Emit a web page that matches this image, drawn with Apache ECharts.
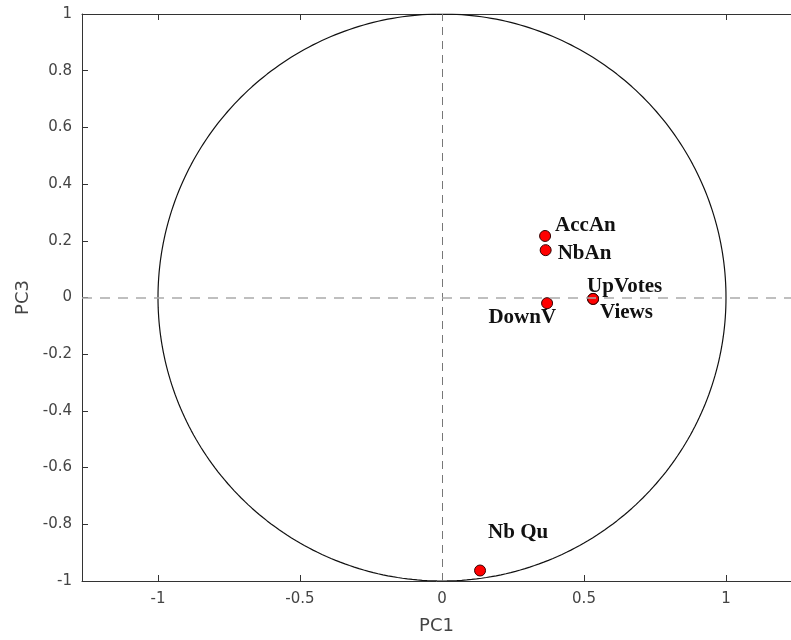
<!DOCTYPE html>
<html>
<head>
<meta charset="utf-8">
<script src="https://cdn.jsdelivr.net/npm/echarts@6/dist/echarts.min.js"></script>
<style>html,body{margin:0;padding:0;background:#fff;}#c{width:791px;height:640px;}</style>
</head>
<body>
<div id="c"></div>
<script>
// Data
var varNames = ['AccAn', 'NbAn', 'DownV', 'UpVotes', 'Views', 'Nb Qu'];
var pc1 = [0.363, 0.365, 0.370, 0.532, 0.532, 0.134];
var pc3 = [0.217, 0.167, -0.020, -0.005, -0.005, -0.963];
var xTicks = [-1, -0.5, 0, 0.5, 1];

// label placement (style, not data)
var labelPlace = {
  'AccAn':   {offset: [10, -10], align: 'left'},
  'NbAn':    {offset: [12, 3], align: 'left'},
  'DownV':   {offset: [9, 14], align: 'right'},
  'UpVotes': {offset: [-6, -12], align: 'left'},
  'Views':   {offset: [7, 14], align: 'left'},
  'Nb Qu':   {offset: [8, -38], align: 'left'}
};

var pts = varNames.map(function (n, i) {
  var lp = labelPlace[n];
  return {
    name: n,
    value: [pc1[i], pc3[i]],
    label: {offset: lp.offset, align: lp.align}
  };
});

var circle = [];
for (var a = 0; a <= 360; a += 1) {
  var t = a * Math.PI / 180;
  circle.push([Math.cos(t), Math.sin(t)]);
}

var tickColor = '#444';
var axisColor = '#333';
var chart = echarts.init(document.getElementById('c'), null, {renderer: 'canvas'});
chart.setOption({
  animation: false,
  grid: {left: 82, top: 14, width: 709, height: 568, containLabel: false},
  xAxis: [{
    type: 'value', min: -1.2676, max: 1.2289, position: 'bottom',
    name: 'PC1', nameLocation: 'middle', nameGap: 36,
    nameTextStyle: {fontFamily: 'DejaVu Sans', fontSize: 18, color: tickColor},
    axisLine: {show: true, onZero: false, lineStyle: {color: axisColor, width: 1}},
    axisTick: {show: true, inside: true, length: 6, customValues: xTicks, lineStyle: {color: axisColor}},
    axisLabel: {show: true, customValues: xTicks, margin: 11, fontFamily: 'DejaVu Sans', fontSize: 15, color: tickColor},
    splitLine: {show: false}
  }, {
    type: 'value', min: -1.2676, max: 1.2289, position: 'top',
    axisLine: {show: true, onZero: false, lineStyle: {color: axisColor, width: 1}},
    axisTick: {show: true, inside: true, length: 6, customValues: xTicks, lineStyle: {color: axisColor}},
    axisLabel: {show: false},
    splitLine: {show: false}
  }],
  yAxis: [{
    type: 'value', min: -1, max: 1, interval: 0.2, position: 'left',
    name: 'PC3', nameLocation: 'middle', nameGap: 47, nameRotate: 90,
    nameTextStyle: {fontFamily: 'DejaVu Sans', fontSize: 18, color: tickColor},
    axisLine: {show: true, onZero: false, lineStyle: {color: axisColor, width: 1}},
    axisTick: {show: true, inside: true, length: 6, lineStyle: {color: axisColor}},
    axisLabel: {margin: 10, fontFamily: 'DejaVu Sans', fontSize: 15, color: tickColor,
      formatter: function (v) { return String(Math.round(v * 10) / 10); }},
    splitLine: {show: false}
  }],
  series: [{
    type: 'line', data: circle, showSymbol: false, symbol: 'none', silent: true,
    lineStyle: {color: '#111', width: 1.2},
    markLine: {
      silent: true, symbol: 'none', label: {show: false},
      data: [
        {xAxis: 0, lineStyle: {color: '#777', type: [8, 6], width: 1}},
        {yAxis: 0, lineStyle: {color: '#aaa', type: [10, 8], width: 1.5}}
      ]
    }
  }, {
    type: 'scatter', data: pts, symbol: 'circle', symbolSize: 11,
    itemStyle: {color: '#ff0000', borderColor: '#300', borderWidth: 1, opacity: 1},
    label: {
      show: true, position: 'inside', verticalAlign: 'middle',
      formatter: '{b}', fontFamily: 'Liberation Serif', fontWeight: 'bold',
      fontSize: 21, color: '#111'
    }
  }]
});
</script>
</body>
</html>
